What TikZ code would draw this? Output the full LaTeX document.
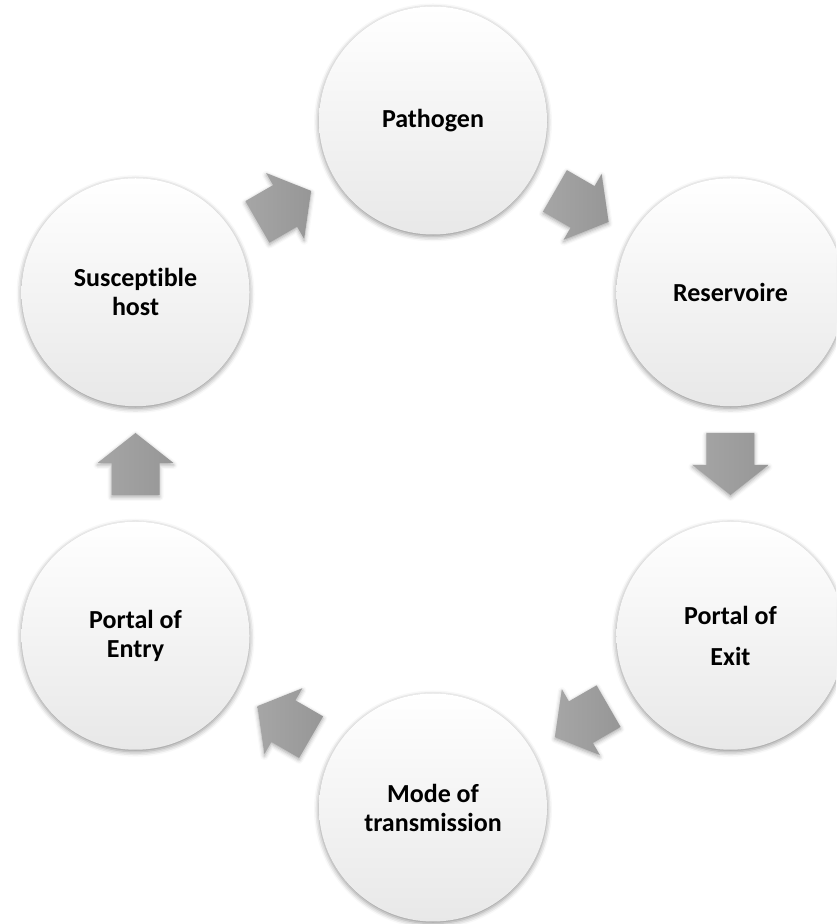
\documentclass[tikz,border=0pt]{standalone}
\usepackage{fontspec}
\setmainfont[Ligatures=NoCommon]{Carlito}
\usetikzlibrary{calc,shadows.blur}
\begin{document}
\begin{tikzpicture}[x=1pt,y=1pt,
  stage/.style={circle, minimum size=228pt, inner sep=0pt, align=center,
     font=\fontsize{26}{29}\selectfont\bfseries,
     top color=white, middle color=white, bottom color=black!9,
     blur shadow={shadow xshift=0pt, shadow yshift=-2pt, shadow blur radius=5pt, shadow opacity=45}},
  arrowfill/.style={left color=black!35, right color=black!41,
     blur shadow={shadow xshift=0pt, shadow yshift=-2pt, shadow blur radius=4pt, shadow opacity=35}},
  flowarrow/.pic={\path[arrowfill] (-31,-24) -- (1,-24) -- (1,-38) -- (31,0) -- (1,38) -- (1,24) -- (-31,24) -- cycle;}
]
\useasboundingbox (0,0) rectangle (836,924);
\clip (0,0) rectangle (836,924);
\coordinate (c) at (433,460);
\node[stage] (path) at ($(c)+(90:343.5)$) {Pathogen};
\node[stage] (res) at ($(c)+(30:343.5)$) {Reservoire};
\node[stage] (exit) at ($(c)+(-30:343.5)$) {Portal of\\[12pt]Exit};
\node[stage] (mode) at ($(c)+(-90:343.5)$) {Mode of\\transmission};
\node[stage] (entry) at ($(c)+(-150:343.5)$) {Portal of\\Entry};
\node[stage] (host) at ($(c)+(150:343.5)$) {Susceptible\\host};
\pic[rotate=-30] at ($(path)!0.5!(res)$) {flowarrow};
\pic[rotate=-90] at ($(res)!0.5!(exit)$) {flowarrow};
\pic[rotate=-150] at ($(exit)!0.5!(mode)$) {flowarrow};
\pic[rotate=150] at ($(mode)!0.5!(entry)$) {flowarrow};
\pic[rotate=90] at ($(entry)!0.5!(host)$) {flowarrow};
\pic[rotate=30] at ($(host)!0.5!(path)$) {flowarrow};
\end{tikzpicture}
\end{document}
